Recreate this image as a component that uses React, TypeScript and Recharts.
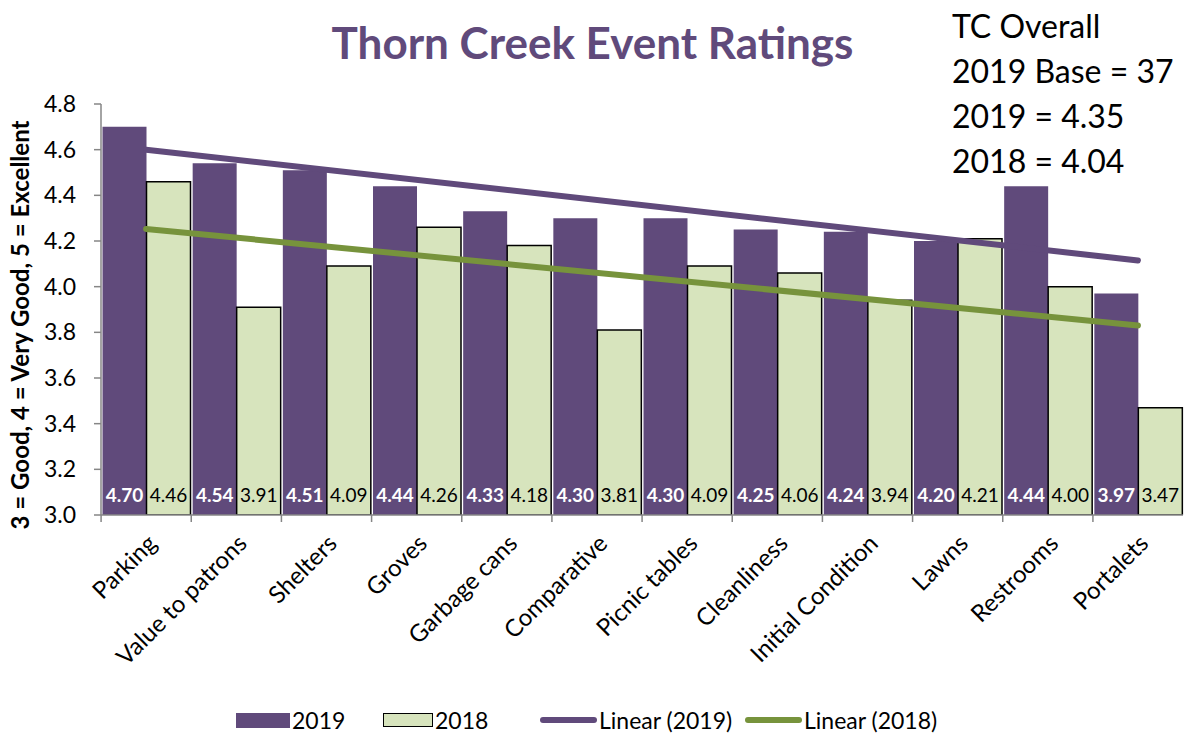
import React from 'react';
import { ComposedChart, Bar, Line, XAxis, YAxis, LabelList } from 'recharts';

const categories = [
  'Parking', 'Value to patrons', 'Shelters', 'Groves', 'Garbage cans', 'Comparative',
  'Picnic tables', 'Cleanliness', 'Initial Condition', 'Lawns', 'Restrooms', 'Portalets',
];
const values2019 = [4.70, 4.54, 4.51, 4.44, 4.33, 4.30, 4.30, 4.25, 4.24, 4.20, 4.44, 3.97];
const values2018 = [4.46, 3.91, 4.09, 4.26, 4.18, 3.81, 4.09, 4.06, 3.94, 4.21, 4.00, 3.47];
// trend line end points (first / last category)
const trend2019Ends = [4.60, 4.115];
const trend2018Ends = [4.253, 3.83];
const yTicks = [3.0, 3.2, 3.4, 3.6, 3.8, 4.0, 4.2, 4.4, 4.6, 4.8];
const infoLines = ['TC Overall', '2019 Base = 37', '2019 = 4.35', '2018 = 4.04'];

const PURPLE = '#604a7b';
const LIGHT_GREEN = '#d7e4bd';
const TREND_GREEN = '#77933c';
const AXIS_GREY = '#868686';
const FONT = 'Lato, "Open Sans", sans-serif';

const last = categories.length - 1;
const data = categories.map((name, i) => ({
  name,
  v2019: values2019[i],
  v2018: values2018[i],
  t2019: i === 0 ? trend2019Ends[0] : i === last ? trend2019Ends[1] : null,
  t2018: i === 0 ? trend2018Ends[0] : i === last ? trend2018Ends[1] : null,
}));

const XTick = (props: any) => {
  const { x, y, payload } = props;
  return (
    <g transform={`translate(${x},${y})`}>
      <line x1={-45} y1={0} x2={-45} y2={7} stroke={AXIS_GREY} strokeWidth={1.5} />
      <text
        x={0}
        y={0}
        transform="translate(12,30) rotate(-45)"
        textAnchor="end"
        fontFamily={FONT}
        fontSize={24}
        fill="#000"
      >
        {payload.value}
      </text>
    </g>
  );
};

const legendItems: { kind: 'box' | 'outline' | 'line'; color: string; label: string; left: number }[] = [
  { kind: 'box', color: PURPLE, label: '2019', left: 236 },
  { kind: 'outline', color: LIGHT_GREEN, label: '2018', left: 383 },
  { kind: 'line', color: PURPLE, label: 'Linear (2019)', left: 540 },
  { kind: 'line', color: TREND_GREEN, label: 'Linear (2018)', left: 745 },
];

const LegendItem = ({ kind, color, label, left }: { kind: 'box' | 'outline' | 'line'; color: string; label: string; left: number }) => {
  let swatch: React.ReactNode;
  if (kind === 'box') {
    swatch = <div style={{ width: 54, height: 15, background: color }} />;
  } else if (kind === 'outline') {
    swatch = <div style={{ width: 48, height: 12, background: color, border: '1.5px solid #000' }} />;
  } else {
    swatch = <div style={{ width: 57, height: 6, background: color, borderRadius: 3 }} />;
  }
  return (
    <div style={{ position: 'absolute', left, top: 0, height: 28, display: 'flex', alignItems: 'center', whiteSpace: 'nowrap' }}>
      {swatch}
      <span style={{ marginLeft: 2, fontFamily: FONT, fontSize: 23, color: '#000' }}>{label}</span>
    </div>
  );
};

export default function App() {
  return (
    <div style={{ position: 'absolute', left: 0, top: 0, width: 1185, height: 734, background: '#fff', overflow: 'hidden' }}>
      <ComposedChart
        width={1185}
        height={734}
        data={data}
        margin={{ top: 104, right: 2, left: 0, bottom: 0 }}
        barCategoryGap={1.5}
        barGap={0}
      >
        <XAxis
          dataKey="name"
          interval={0}
          tickSize={0}
          tickMargin={0}
          tickLine={false}
          axisLine={{ stroke: AXIS_GREY, strokeWidth: 1.5 }}
          tick={<XTick />}
          height={219}
        />
        <YAxis
          width={101}
          domain={[3.0, 4.8]}
          ticks={yTicks}
          interval={0}
          allowDataOverflow
          tickFormatter={(v: number) => v.toFixed(1)}
          tick={{ fontFamily: FONT, fontSize: 23, fill: '#000' }}
          tickSize={7}
          tickMargin={18}
          axisLine={{ stroke: AXIS_GREY, strokeWidth: 1.5 }}
          tickLine={{ stroke: AXIS_GREY, strokeWidth: 1.5 }}
        />
        <Bar dataKey="v2019" fill={PURPLE} isAnimationActive={false}>
          <LabelList
            dataKey="v2019"
            position="insideBottom"
            offset={13}
            formatter={(v: any) => Number(v).toFixed(2)}
            style={{ fontFamily: FONT, fontSize: 19, fontWeight: 700, fill: '#fff' }}
          />
        </Bar>
        <Bar dataKey="v2018" fill={LIGHT_GREEN} stroke="#000" strokeWidth={1.5} isAnimationActive={false}>
          <LabelList
            dataKey="v2018"
            position="insideBottom"
            offset={13}
            formatter={(v: any) => Number(v).toFixed(2)}
            style={{ fontFamily: FONT, fontSize: 19, fill: '#000', stroke: 'none' }}
          />
        </Bar>
        <Line
          type="linear"
          dataKey="t2019"
          stroke={PURPLE}
          strokeWidth={6}
          strokeLinecap="round"
          dot={false}
          activeDot={false}
          connectNulls
          isAnimationActive={false}
        />
        <Line
          type="linear"
          dataKey="t2018"
          stroke={TREND_GREEN}
          strokeWidth={6}
          strokeLinecap="round"
          dot={false}
          activeDot={false}
          connectNulls
          isAnimationActive={false}
        />
      </ComposedChart>

      <div
        style={{
          position: 'absolute', left: 0, width: 1185, top: 12, textAlign: 'center',
          fontFamily: FONT, fontWeight: 700, fontSize: 44, color: PURPLE, lineHeight: '60px',
        }}
      >
        <span style={{ position: 'relative', left: 0 }}>Thorn Creek Event Ratings</span>
      </div>

      <div style={{ position: 'absolute', left: 952, top: 3, fontFamily: FONT, fontSize: 32, lineHeight: '45px', color: '#000', whiteSpace: 'nowrap' }}>
        {infoLines.map((l) => (
          <div key={l}>{l}</div>
        ))}
      </div>

      <div style={{ position: 'absolute', left: 19, top: 325, width: 0, height: 0 }}>
        <div
          style={{
            position: 'absolute', left: 0, top: 0, transform: 'translate(-50%, -50%) rotate(-90deg)',
            whiteSpace: 'nowrap', fontFamily: FONT, fontWeight: 700, fontSize: 24, color: '#000',
          }}
        >
          3 = Good, 4 = Very Good, 5 = Excellent
        </div>
      </div>

      <div style={{ position: 'absolute', left: 0, top: 706, width: 1185, height: 28 }}>
        {legendItems.map((it) => (
          <LegendItem key={it.label} {...it} />
        ))}
      </div>
    </div>
  );
}
